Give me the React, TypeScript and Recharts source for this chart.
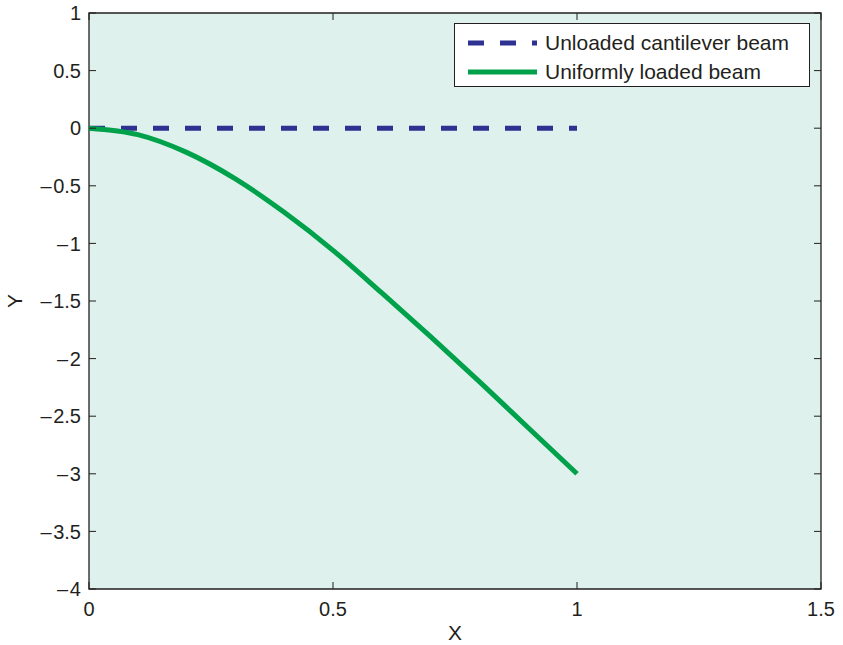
import React from "react";
import {
  LineChart,
  Line,
  XAxis,
  YAxis,
  CartesianGrid,
  Legend,
  ReferenceArea,
} from "recharts";

// beam positions along X
const xValues = [0, 0.1, 0.2, 0.3, 0.4, 0.5, 0.6, 0.7, 0.8, 0.9, 1];
// deflection of the unloaded beam (straight)
const unloadedBeam = [0, 0, 0, 0, 0, 0, 0, 0, 0, 0, 0];
// deflection of the uniformly loaded beam
const loadedBeam = [0, -0.056, -0.21, -0.44, -0.73, -1.06, -1.43, -1.81, -2.2, -2.6, -3];

const xTicks = [0, 0.5, 1, 1.5];
const yTicks = [-4, -3.5, -3, -2.5, -2, -1.5, -1, -0.5, 0, 0.5, 1];

const seriesNames = ["Unloaded cantilever beam", "Uniformly loaded beam"];

const data = xValues.map((x, i) => ({
  x,
  unloaded: unloadedBeam[i],
  loaded: loadedBeam[i],
}));

const FONT = "'Liberation Sans', Arial, Helvetica, sans-serif";
const INK = "#231f20";
const BLUE = "#2e3192";
const GREEN = "#00a14b";
const DASH = "16 16";

const PLOT_W = 732;
const PLOT_H = 576;
const TICK_LEN = 7;
const X_MARGIN = 13;
const Y_MARGIN = 8;

// MATLAB style long minus sign
const fmt = (v: number) => (v < 0 ? "\u2013\u200a" + String(-v) : String(v));

const XTick = (props: any) => {
  const { x, y, payload } = props;
  const axisY = y - X_MARGIN;
  return (
    <g>
      <line x1={x} x2={x} y1={axisY} y2={axisY - TICK_LEN} stroke={INK} />
      <line
        x1={x}
        x2={x}
        y1={axisY - PLOT_H}
        y2={axisY - PLOT_H + TICK_LEN}
        stroke={INK}
      />
      <text
        x={x}
        y={y}
        dy="0.71em"
        textAnchor="middle"
        fill={INK}
        fontSize={20}
        fontFamily={FONT}
      >
        {fmt(payload.value)}
      </text>
    </g>
  );
};

const YTick = (props: any) => {
  const { x, y, payload } = props;
  const axisX = x + Y_MARGIN;
  return (
    <g>
      <line x1={axisX} x2={axisX + TICK_LEN} y1={y} y2={y} stroke={INK} />
      <line
        x1={axisX + PLOT_W - TICK_LEN}
        x2={axisX + PLOT_W}
        y1={y}
        y2={y}
        stroke={INK}
      />
      <text
        x={x}
        y={y}
        dy="0.355em"
        textAnchor="end"
        fill={INK}
        fontSize={20}
        fontFamily={FONT}
      >
        {fmt(payload.value)}
      </text>
    </g>
  );
};

const XLabel = (props: any) => {
  const { viewBox } = props;
  return (
    <text
      x={viewBox.x + viewBox.width / 2}
      y={viewBox.y + viewBox.height - 5}
      textAnchor="middle"
      fill={INK}
      fontSize={21}
      fontFamily={FONT}
    >
      X
    </text>
  );
};

const YLabel = (props: any) => {
  const { viewBox } = props;
  const cx = viewBox.x + 15;
  const cy = viewBox.y + viewBox.height / 2;
  return (
    <text
      x={cx}
      y={cy}
      dy="0.355em"
      textAnchor="middle"
      transform={`rotate(-90, ${cx}, ${cy})`}
      fill={INK}
      fontSize={21}
      fontFamily={FONT}
    >
      Y
    </text>
  );
};

const dashByKey: { [key: string]: string | undefined } = {
  unloaded: DASH,
  loaded: undefined,
};

const legendOrder = ["unloaded", "loaded"];

const renderLegend = (props: any) => {
  const items = [...(props.payload || [])].sort(
    (a: any, b: any) =>
      legendOrder.indexOf(a.dataKey) - legendOrder.indexOf(b.dataKey)
  );
  return (
    <div
      style={{
        boxSizing: "border-box",
        width: 356,
        height: 64,
        border: `1px solid ${INK}`,
        background: "#fff",
        padding: "4px 0 0 13px",
        fontFamily: FONT,
        fontSize: 21,
        color: INK,
      }}
    >
      {items.map((entry: any) => (
        <div
          key={entry.dataKey}
          style={{ display: "flex", alignItems: "center", height: 29 }}
        >
          <svg width={69} height={10} style={{ flexShrink: 0 }}>
            <line
              x1={0}
              x2={69}
              y1={5}
              y2={5}
              stroke={entry.color}
              strokeWidth={5}
              strokeDasharray={dashByKey[entry.dataKey]}
            />
          </svg>
          <span style={{ marginLeft: 8, whiteSpace: "nowrap" }}>
            {entry.value}
          </span>
        </div>
      ))}
    </div>
  );
};

export default function App() {
  return (
    <div style={{ position: "absolute", left: 0, top: 0, background: "#fff" }}>
      <LineChart
        width={843}
        height={645}
        data={data}
        margin={{ top: 13, right: 22, bottom: 0, left: 0 }}
      >
        <CartesianGrid
          fill="#def1ec"
          stroke="none"
          horizontal={false}
          vertical={false}
        />
        <XAxis
          dataKey="x"
          type="number"
          domain={[0, 1.5]}
          ticks={xTicks}
          interval={0}
          height={56}
          tickSize={0}
          tickMargin={X_MARGIN}
          tickLine={false}
          axisLine={false}
          tick={<XTick />}
          label={<XLabel />}
        />
        <YAxis
          type="number"
          domain={[-4, 1]}
          ticks={yTicks}
          interval={0}
          width={89}
          tickSize={0}
          tickMargin={Y_MARGIN}
          tickLine={false}
          axisLine={false}
          tick={<YTick />}
          label={<YLabel />}
        />
        <Line
          type="linear"
          dataKey="unloaded"
          name={seriesNames[0]}
          stroke={BLUE}
          strokeWidth={5}
          strokeDasharray={DASH}
          dot={false}
          activeDot={false}
          isAnimationActive={false}
        />
        <Line
          type="monotone"
          dataKey="loaded"
          name={seriesNames[1]}
          stroke={GREEN}
          strokeWidth={5}
          dot={false}
          activeDot={false}
          isAnimationActive={false}
        />
        <ReferenceArea
          x1={0}
          x2={1.5}
          y1={-4}
          y2={1}
          fill="none"
          fillOpacity={0}
          stroke={INK}
          strokeWidth={1.3}
        />
        <Legend
          layout="horizontal"
          align="center"
          verticalAlign="middle"
          itemSorter={null}
          content={renderLegend}
          wrapperStyle={{ left: 454, top: 23, width: 356, height: 64 }}
        />
      </LineChart>
    </div>
  );
}
